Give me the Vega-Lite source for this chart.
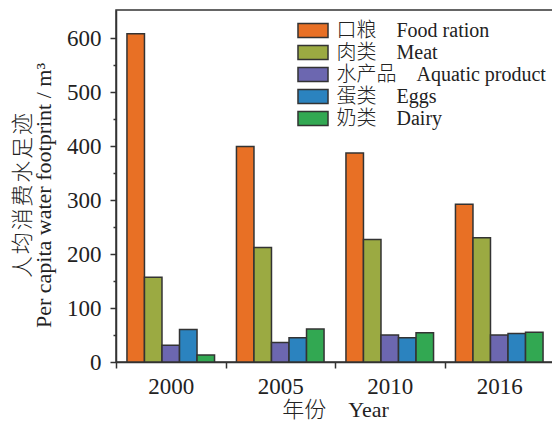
{
  "$schema": "https://vega.github.io/schema/vega-lite/v6.json",
  "width": 438,
  "height": 352,
  "autosize": "none",
  "padding": {"left": 116, "top": 10, "right": 0, "bottom": 61},
  "background": "white",
  "config": {
    "font": "Liberation Serif, Noto Sans CJK SC",
    "view": {"stroke": "#333", "strokeWidth": 1.5},
    "axis": {
      "grid": false,
      "labelFont": "Liberation Serif",
      "labelFontSize": 23,
      "labelColor": "#222",
      "titleFont": "Liberation Serif, Noto Sans CJK SC",
      "titleFontSize": 22,
      "titleFontWeight": 300,
      "titleColor": "#222",
      "domainColor": "#333",
      "domainWidth": 1.5,
      "tickColor": "#333",
      "tickWidth": 1.5
    }
  },
  "data": {
    "values": [
      {"year": "2000", "category": "口粮\u3000Food ration", "value": 608},
      {"year": "2000", "category": "肉类\u3000Meat", "value": 157},
      {"year": "2000", "category": "水产品\u3000Aquatic product", "value": 31},
      {"year": "2000", "category": "蛋类\u3000Eggs", "value": 60},
      {"year": "2000", "category": "奶类\u3000Dairy", "value": 13},
      {"year": "2005", "category": "口粮\u3000Food ration", "value": 399},
      {"year": "2005", "category": "肉类\u3000Meat", "value": 212},
      {"year": "2005", "category": "水产品\u3000Aquatic product", "value": 36},
      {"year": "2005", "category": "蛋类\u3000Eggs", "value": 45},
      {"year": "2005", "category": "奶类\u3000Dairy", "value": 61},
      {"year": "2010", "category": "口粮\u3000Food ration", "value": 387},
      {"year": "2010", "category": "肉类\u3000Meat", "value": 227},
      {"year": "2010", "category": "水产品\u3000Aquatic product", "value": 50},
      {"year": "2010", "category": "蛋类\u3000Eggs", "value": 45},
      {"year": "2010", "category": "奶类\u3000Dairy", "value": 54},
      {"year": "2016", "category": "口粮\u3000Food ration", "value": 292},
      {"year": "2016", "category": "肉类\u3000Meat", "value": 230},
      {"year": "2016", "category": "水产品\u3000Aquatic product", "value": 50},
      {"year": "2016", "category": "蛋类\u3000Eggs", "value": 53},
      {"year": "2016", "category": "奶类\u3000Dairy", "value": 55}
    ]
  },
  "encoding": {
    "x": {
      "field": "year",
      "type": "nominal",
      "scale": {"paddingInner": 0, "paddingOuter": 0},
      "axis": {
        "title": "年份\u3000Year",
        "labelAngle": 0,
        "tickBand": "extent",
        "tickSize": 6,
        "labelPadding": 7,
        "titlePadding": 1
      }
    },
    "xOffset": {
      "field": "category",
      "type": "nominal",
      "sort": null,
      "scale": {
        "domain": ["口粮\u3000Food ration", "肉类\u3000Meat", "水产品\u3000Aquatic product", "蛋类\u3000Eggs", "奶类\u3000Dairy"],
        "paddingInner": 0,
        "paddingOuter": 0.625
      }
    }
  },
  "layer": [
    {
      "mark": {"type": "bar", "stroke": "#333", "strokeWidth": 1.5},
      "encoding": {
        "y": {
          "field": "value",
          "type": "quantitative",
          "scale": {"domain": [0, 652], "nice": false, "zero": true},
          "axis": {
            "values": [0, 100, 200, 300, 400, 500, 600],
            "title": ["人\u200a均\u200a消\u200a费\u200a水\u200a足\u200a迹", "Per capita water footprint / m³"],
            "titleLineHeight": 21,
            "titlePadding": 11,
            "titleY": 185,
            "tickSize": 6,
            "labelPadding": 9,
            "orient": "left"
          }
        },
        "color": {
          "field": "category",
          "type": "nominal",
          "scale": {
            "domain": ["口粮\u3000Food ration", "肉类\u3000Meat", "水产品\u3000Aquatic product", "蛋类\u3000Eggs", "奶类\u3000Dairy"],
            "range": ["#E87025", "#9BAA42", "#6C67B0", "#2B83BF", "#32A852"]
          },
          "legend": {
            "title": null,
            "orient": "none",
            "legendX": 185.5,
            "legendY": 9,
            "padding": 0,
            "symbolType": "M-1.43,-0.667H1.43V0.667H-1.43Z",
            "symbolSize": 441,
            "symbolStrokeColor": "#333",
            "symbolStrokeWidth": 1.5,
            "symbolOpacity": 1,
            "labelFont": "Liberation Serif, Noto Sans CJK SC",
            "labelFontSize": 20,
            "labelFontWeight": 300,
            "labelColor": "#222",
            "labelOffset": 12,
            "labelLimit": 400,
            "rowPadding": 0
          }
        }
      }
    },
    {
      "mark": {"type": "bar", "opacity": 0},
      "encoding": {
        "y": {
          "field": "value",
          "type": "quantitative",
          "axis": {
            "orient": "left",
            "values": [50, 150, 250, 350, 450, 550],
            "labels": false,
            "domain": false,
            "title": null,
            "tickSize": 3
          }
        }
      }
    }
  ],
  "resolve": {"axis": {"y": "independent"}}
}
